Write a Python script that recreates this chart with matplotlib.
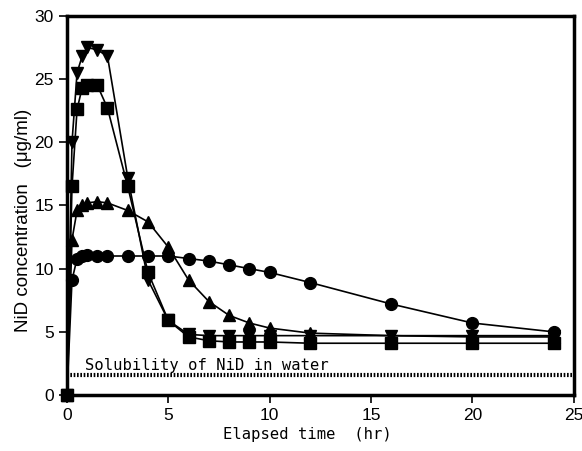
import numpy as np
import matplotlib.pyplot as plt

# sampling times (hr)
time = [0, 0.25, 0.5, 0.75, 1, 1.5, 2, 3, 4, 5, 6, 7, 8, 9, 10, 12, 16, 20, 24]

# NiD concentration (ug/ml) for each formulation
circle = [0, 9.1, 10.8, 11.0, 11.1, 11.0, 11.0, 11.0, 11.0, 11.0, 10.8, 10.6, 10.3, 10.0, 9.7, 8.9, 7.2, 5.7, 5.0]
up_tri = [0, 12.3, 14.6, 15.0, 15.2, 15.3, 15.2, 14.6, 13.7, 11.7, 9.1, 7.4, 6.3, 5.7, 5.3, 4.9, 4.7, 4.6, 4.6]
square = [0, 16.5, 22.6, 24.3, 24.5, 24.5, 22.7, 16.5, 9.7, 5.9, 4.6, 4.3, 4.2, 4.2, 4.2, 4.1, 4.1, 4.1, 4.1]
down_tri = [0, 20.0, 25.5, 26.8, 27.5, 27.3, 26.8, 17.2, 9.1, 5.9, 4.8, 4.7, 4.7, 4.7, 4.7, 4.7, 4.7, 4.7, 4.7]

solubility = 1.6

mono = "DejaVu Sans Mono"

fig = plt.figure(figsize=(5.82, 4.51), dpi=100)
ax = fig.add_axes([0.115, 0.124, 0.871, 0.841])

ax.plot(time, circle, "k-o", ms=8.5, lw=1.2, clip_on=False)
ax.plot(time, up_tri, "k-^", ms=9, lw=1.2, clip_on=False)
ax.plot(time, down_tri, "k-v", ms=9, lw=1.2, clip_on=False)
ax.plot(time, square, "k-s", ms=8.5, lw=1.2, clip_on=False)

ax.axhline(solubility, color="k", lw=3, ls=(0, (0.4, 0.4)))
ax.text(0.9, solubility + 0.4, "Solubility of NiD in water", family=mono, fontsize=11.2)

ax.set_xlim(0, 25)
ax.set_ylim(0, 30)
ax.set_xticks(np.arange(0, 26, 5))
ax.set_yticks(np.arange(0, 31, 5))
ax.tick_params(direction="out", length=6, width=1.2, labelsize=12.5)
for lbl in ax.get_xticklabels() + ax.get_yticklabels():
    lbl.set_family("Liberation Sans")
for s in ax.spines.values():
    s.set_linewidth(2.5)

ax.set_xlabel("Elapsed time  (hr)", family=mono, fontsize=11.2)
ax.xaxis.set_label_coords(0.475, -0.085)
ax.set_ylabel("NiD concentration   (\u03bcg/ml)", family="Liberation Sans", fontsize=13.5)
ax.yaxis.set_label_coords(-0.068, 0.46)

fig.savefig("out.png", dpi=100)
